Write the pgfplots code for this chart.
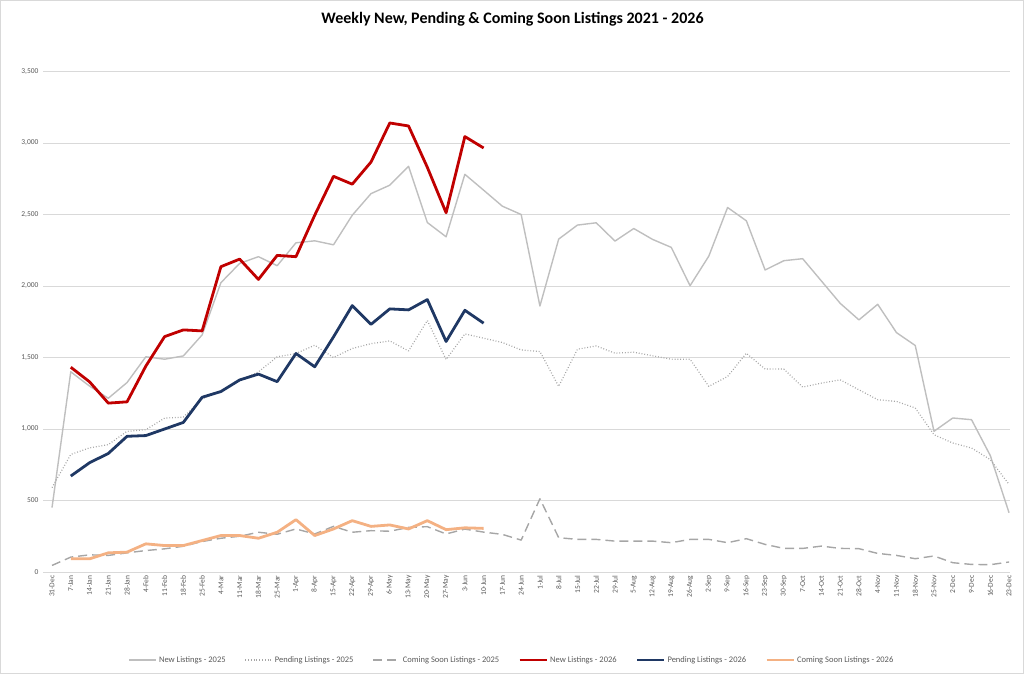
\documentclass[border=0pt]{standalone}
\usepackage{fontspec}
\setmainfont{Carlito}
\usepackage{pgfplots}
\usepackage{pgfplotstable}
\pgfplotsset{compat=1.18}
\definecolor{red26}{HTML}{C00000}
\definecolor{navy26}{HTML}{1F3864}
\definecolor{orng26}{HTML}{F4B183}
\definecolor{gr25}{HTML}{BFBFBF}
\definecolor{grd25}{HTML}{A6A6A6}
\definecolor{gridc}{HTML}{D9D9D9}
\definecolor{txt}{HTML}{595959}

\pgfplotstableread{
i new pend soon
0 450 590 46
1 1400 822 104
2 1300 868 120
3 1215 891 116
4 1325 984 134
5 1505 995 150
6 1488 1076 162
7 1511 1083 180
8 1658 1210 213
9 2023 1265 236
10 2158 1340 250
11 2205 1400 278
12 2142 1505 264
13 2302 1528 301
14 2316 1586 266
15 2288 1500 319
16 2495 1563 278
17 2646 1597 289
18 2705 1616 285
19 2837 1546 312
20 2444 1759 317
21 2344 1486 266
22 2781 1665 300
23 2670 1635 279
24 2558 1605 263
25 2500 1553 223
26 1860 1542 512
27 2328 1298 240
28 2426 1558 228
29 2442 1581 228
30 2314 1530 216
31 2402 1537 216
32 2326 1512 216
33 2270 1488 205
34 2002 1488 228
35 2209 1298 228
36 2549 1367 205
37 2456 1530 233
38 2112 1419 193
39 2177 1419 165
40 2191 1293 165
41 2035 1321 181
42 1879 1344 165
43 1763 1274 163
44 1872 1205 130
45 1674 1193 116
46 1584 1147 93
47 984 960 112
48 1077 902 65
49 1065 867 53
50 814 786 51
51 414 612 70
}\tabA

\pgfplotstableread{
i new pend soon
1 1432 671 92
2 1330 764 92
3 1181 829 134
4 1190 949 139
5 1440 954 197
6 1646 1000 185
7 1693 1046 185
8 1686 1222 220
9 2135 1262 255
10 2188 1343 255
11 2046 1384 236
12 2214 1331 278
13 2205 1528 366
14 2495 1435 255
15 2767 1644 301
16 2712 1863 359
17 2867 1732 319
18 3140 1840 329
19 3119 1833 301
20 2830 1905 359
21 2512 1612 296
22 3045 1830 309
23 2965 1740 305
}\tabB

\begin{document}
\begin{tikzpicture}[x=1pt,y=1pt]
\useasboundingbox (-43,-102) rectangle (981,572);
\draw[gridc, line width=0.8pt] (-42.6,-101.6) rectangle (980.6,571.6);
\begin{axis}[
  at={(0,0)}, anchor=south west,
  scale only axis, width=967pt, height=500.5pt,
  xmin=-0.48, xmax=51.05, ymin=0, ymax=3500,
  axis x line*=bottom, axis y line*=left,
  x axis line style={gridc, line width=0.8pt, -},
  y axis line style={draw=none},
  ymajorgrids, grid style={gridc, line width=0.7pt},
  ytick={0,500,...,3500},
  xtick={0,...,51},
  xticklabels={31-Dec,7-Jan,14-Jan,21-Jan,28-Jan,4-Feb,11-Feb,18-Feb,25-Feb,4-Mar,11-Mar,18-Mar,25-Mar,1-Apr,8-Apr,15-Apr,22-Apr,29-Apr,6-May,13-May,20-May,27-May,3-Jun,10-Jun,17-Jun,24-Jun,1-Jul,8-Jul,15-Jul,22-Jul,29-Jul,5-Aug,12-Aug,19-Aug,26-Aug,2-Sep,9-Sep,16-Sep,23-Sep,30-Sep,7-Oct,14-Oct,21-Oct,28-Oct,4-Nov,11-Nov,18-Nov,25-Nov,2-Dec,9-Dec,16-Dec,23-Dec},
  major tick length=0pt,
  x tick label style={rotate=90, anchor=east, font=\fontsize{7.5}{9}\selectfont, text=txt},
  y tick label style={font=\fontsize{7.5}{9}\selectfont, text=txt, xshift=-1pt},
  yticklabel style={/pgf/number format/.cd, 1000 sep={,}},
  /pgf/number format/assume math mode=true,
  title={Weekly New, Pending \& Coming Soon Listings 2021 - 2026},
  title style={font=\fontsize{16}{19}\selectfont\bfseries, at={(0.4855,1)}, anchor=center, yshift=46pt},
  legend columns=6,
  legend style={at={(0.485,-0.176)}, anchor=center, draw=none, fill=none,
    font=\fontsize{8.5}{10}\selectfont, text=txt,
    /tikz/every even column/.append style={column sep=17pt}},
  legend image code/.code={\draw[#1] (0pt,0pt) -- (27pt,0pt);},
  every axis plot/.append style={line join=round},
]
\addplot[gr25, line width=1.4pt] table[x=i, y=new] {\tabA};
\addlegendentry{New Listings - 2025}
\addplot[grd25, line width=1.2pt, dash pattern=on 0.9pt off 1.9pt] table[x=i, y=pend] {\tabA};
\addlegendentry{Pending Listings - 2025}
\addplot[grd25, line width=1.4pt, dash pattern=on 9pt off 5pt] table[x=i, y=soon] {\tabA};
\addlegendentry{Coming Soon Listings - 2025}
\addplot[red26, line width=2.8pt] table[x=i, y=new] {\tabB};
\addlegendentry{New Listings - 2026}
\addplot[navy26, line width=2.8pt] table[x=i, y=pend] {\tabB};
\addlegendentry{Pending Listings - 2026}
\addplot[orng26, line width=2.8pt] table[x=i, y=soon] {\tabB};
\addlegendentry{Coming Soon Listings - 2026}
\end{axis}
\end{tikzpicture}
\end{document}
